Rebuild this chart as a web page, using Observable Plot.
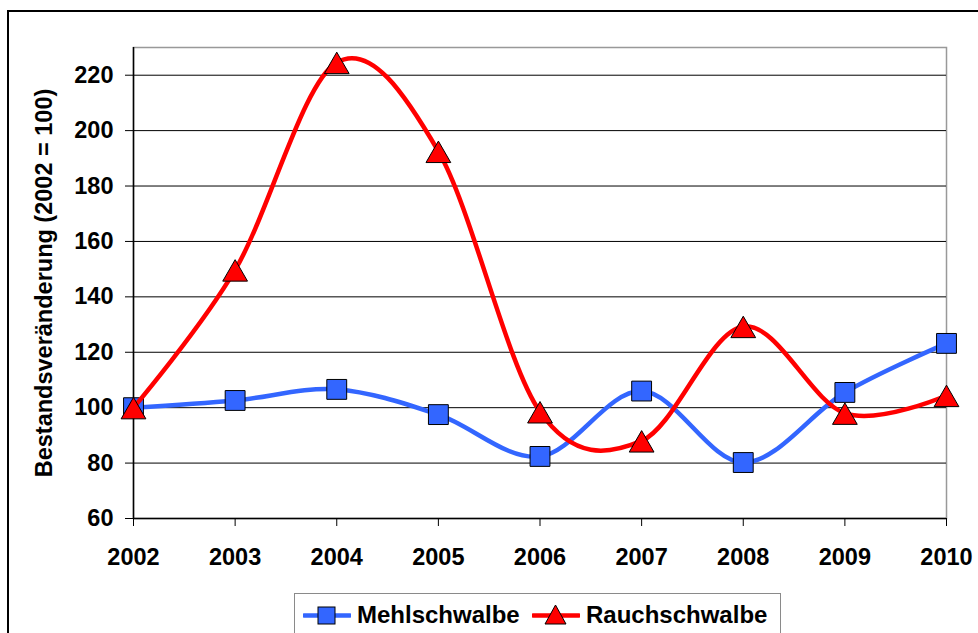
<!DOCTYPE html>
<html>
<head>
<meta charset="utf-8">
<script src="https://cdn.jsdelivr.net/npm/d3@7"></script>
<script src="https://cdn.jsdelivr.net/npm/@observablehq/plot@0.6"></script>
<style>
  html, body { margin: 0; padding: 0; background: #fff; }
  #wrap { position: relative; width: 978px; height: 633px; overflow: hidden; font-family: "Liberation Sans", Arial, sans-serif; }
  #frame { position: absolute; left: 7px; top: 10px; width: 990px; height: 660px; border: 2px solid #000; box-sizing: border-box; }
  #chart { position: absolute; left: 0; top: 0; }
  #legend { position: absolute; left: 294px; top: 593px; width: 487px; height: 50px; border: 1px solid #8a8a8a; box-sizing: border-box; background: #fff; }
  .item { position: absolute; top: 6px; height: 30px; display: flex; align-items: center; font-weight: bold; font-size: 24px; color: #000; }
  .item svg { margin-right: 6px; }
</style>
</head>
<body>
<div id="wrap">
  <div id="frame"></div>
  <div id="chart"></div>
  <div id="legend"></div>
</div>
<script>
const years = [2002, 2003, 2004, 2005, 2006, 2007, 2008, 2009, 2010];
const mehlschwalbe = [100, 102.6, 106.6, 97.5, 82.4, 106, 80.2, 105.5, 123.2];
const rauchschwalbe = [100, 149.7, 224.6, 192.5, 98.5, 88, 129.3, 98, 104.4];
const yTicks = [60, 80, 100, 120, 140, 160, 180, 200, 220];
const gridTicks = [80, 100, 120, 140, 160, 180, 200, 220];
const seriesNames = ["Mehlschwalbe", "Rauchschwalbe"];
const yLabel = "Bestandsveränderung (2002 = 100)";

const blue = "#3366ff";
const red = "#ff0000";

const mehl = years.map((y, i) => ({year: y, value: mehlschwalbe[i]}));
const rauch = years.map((y, i) => ({year: y, value: rauchschwalbe[i]}));

const FS = 23.5;

const chart = Plot.plot({
  width: 978,
  height: 590,
  marginLeft: 133,
  marginRight: 32,
  marginTop: 47,
  marginBottom: 72,
  style: {fontFamily: "'Liberation Sans', Arial, sans-serif", fontSize: FS + "px", fontWeight: "bold", color: "#000", background: "transparent", overflow: "visible"},
  x: {type: "linear", domain: [2002, 2010]},
  y: {domain: [60, 230]},
  marks: [
    Plot.frame({stroke: "#999", strokeWidth: 1.5}),
    Plot.ruleY(gridTicks, {stroke: "#000", strokeWidth: 1}),
    Plot.ruleX([2002], {stroke: "#000", strokeWidth: 1.5}),
    Plot.ruleY([60], {stroke: "#000", strokeWidth: 1.5}),
    Plot.axisY({ticks: yTicks, tickSize: 8, tickPadding: 12, label: null, tickFormat: d => String(d), fontSize: FS}),
    Plot.axisX({ticks: years, tickSize: 8, tickPadding: 22, label: null, tickFormat: d => String(d), fontSize: FS}),
    Plot.text([yLabel], {frameAnchor: "left", rotate: -90, dx: -89, text: d => d, textAnchor: "middle", lineAnchor: "middle", fontSize: FS, fontWeight: "bold"}),
    Plot.line(mehl, {x: "year", y: "value", stroke: blue, strokeWidth: 4.5, curve: "cardinal"}),
    Plot.dot(mehl, {x: "year", y: "value", symbol: "square", r: 11.2, fill: blue, stroke: "#000", strokeWidth: 1}),
    Plot.line(rauch, {x: "year", y: "value", stroke: red, strokeWidth: 4.5, curve: "cardinal"}),
    Plot.dot(rauch, {x: "year", y: "value", symbol: "triangle", r: 9.2, dy: 4, fill: red, stroke: "#000", strokeWidth: 1})
  ]
});
document.getElementById("chart").appendChild(chart);

// legend
const legend = document.getElementById("legend");
const specs = [
  {name: seriesNames[0], color: blue, left: 8, shape: "square"},
  {name: seriesNames[1], color: red, left: 237, shape: "triangle"}
];
for (const s of specs) {
  const div = document.createElement("div");
  div.className = "item";
  div.style.left = s.left + "px";
  const marker = s.shape === "square"
    ? `<rect x="15" y="5" width="17" height="17" fill="${s.color}" stroke="#000" stroke-width="1"/>`
    : `<polygon points="23.5,3 34,22 13,22" fill="${s.color}" stroke="#000" stroke-width="1"/>`;
  div.innerHTML = `<svg width="48" height="27"><line x1="1" y1="13.5" x2="47" y2="13.5" stroke="${s.color}" stroke-width="4.5" stroke-linecap="round"/>${marker}</svg><span>${s.name}</span>`;
  legend.appendChild(div);
}
</script>
</body>
</html>
